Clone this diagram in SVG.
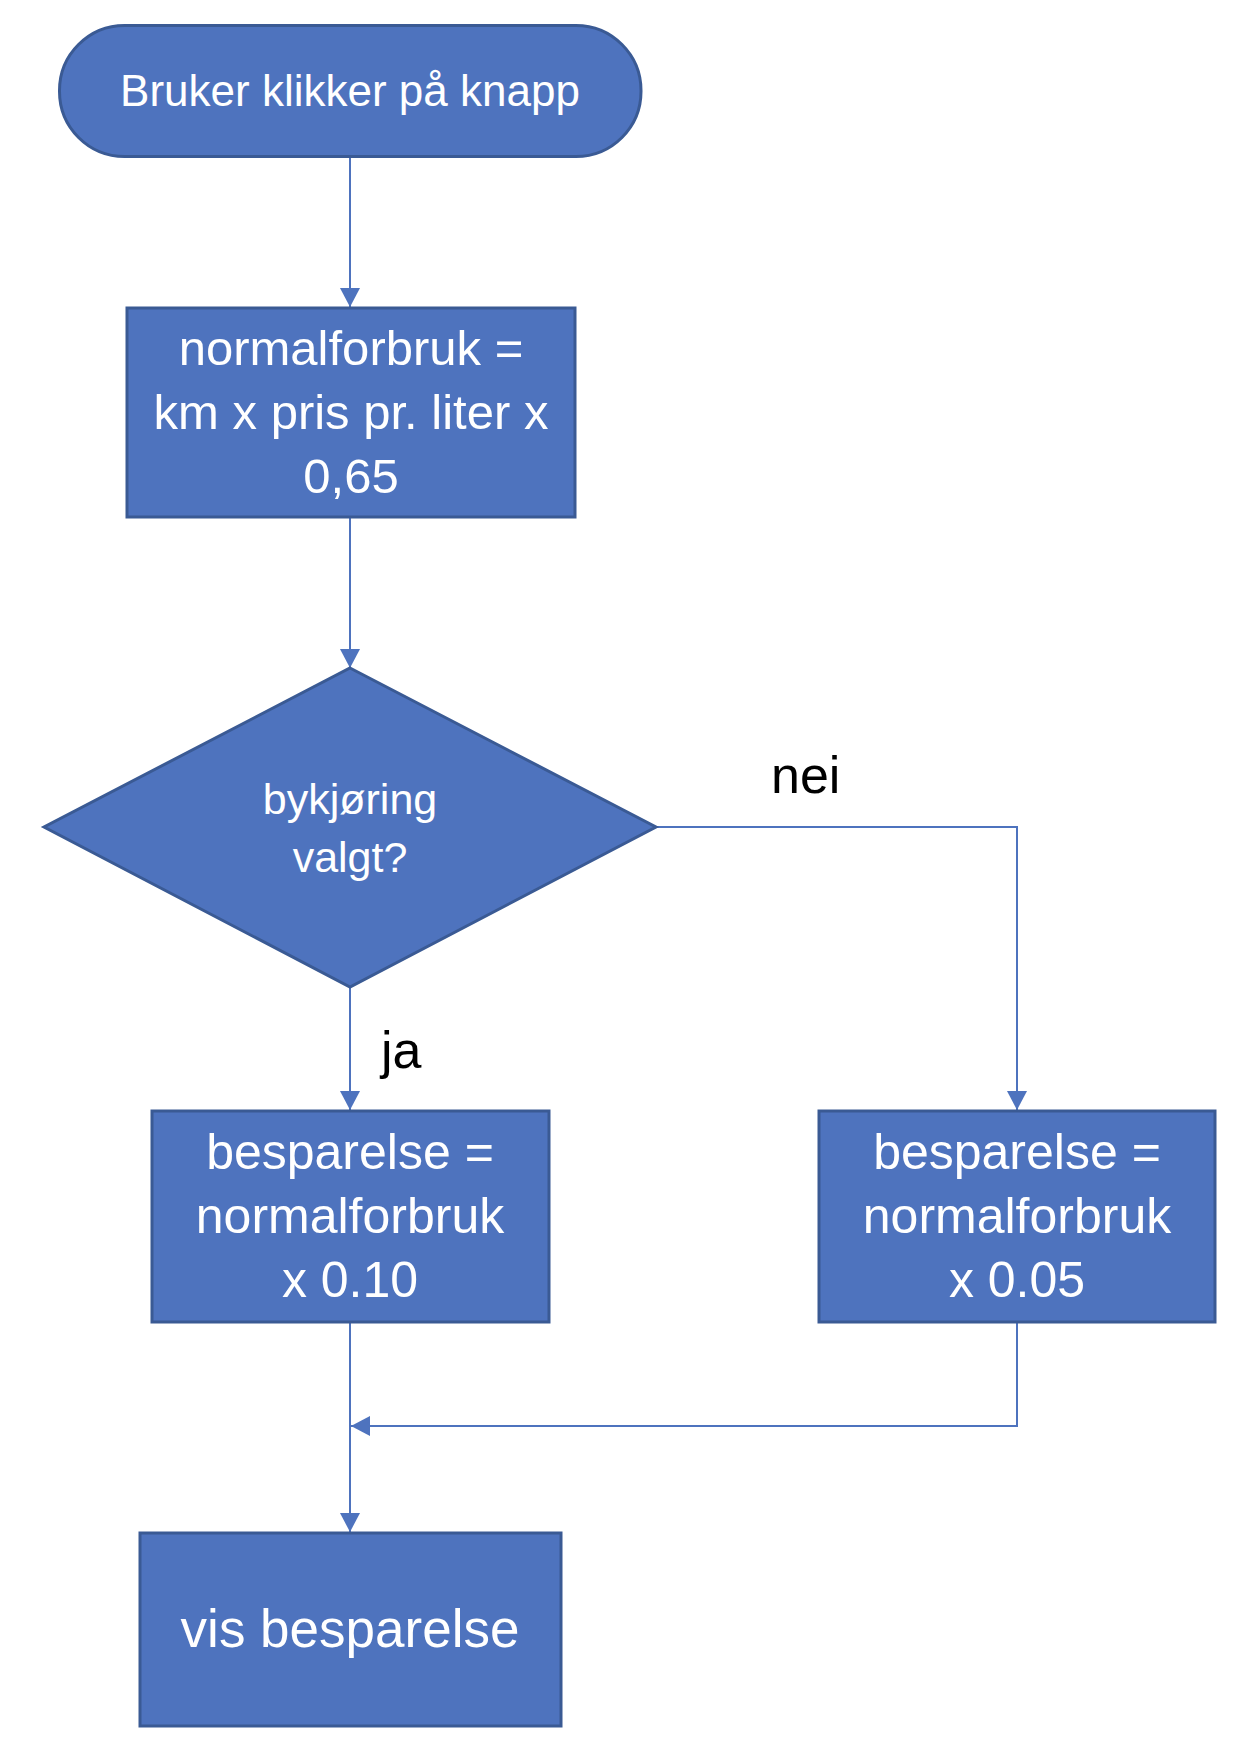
<svg xmlns="http://www.w3.org/2000/svg" width="1260" height="1754" viewBox="0 0 1260 1754">
  <style>
    .shape { fill: #4E73BE; stroke: #3A5A94; stroke-width: 3; }
    .t { fill: #FFFFFF; font-family: "Liberation Sans", Arial, sans-serif; text-anchor: middle; }
    .lbl { fill: #000000; font-family: "Liberation Sans", Arial, sans-serif; font-size: 52px; }
    .conn { fill: none; stroke: #4E73BE; stroke-width: 2; }
  </style>
  <defs>
    <marker id="arrow" viewBox="0 0 19 20" refX="19" refY="10" markerWidth="19" markerHeight="20" markerUnits="userSpaceOnUse" orient="auto">
      <path d="M0,0 L19,10 L0,20 z" fill="#4E73BE"/>
    </marker>
  </defs>
  <rect width="1260" height="1754" fill="#FFFFFF"/>

  <g id="connectors">
    <path class="conn" d="M350,157 L350,307" marker-end="url(#arrow)"/>
    <path class="conn" d="M350,517 L350,668" marker-end="url(#arrow)"/>
    <path class="conn" d="M350,987 L350,1110" marker-end="url(#arrow)"/>
    <path class="conn" d="M656,827 L1017,827 L1017,1110" marker-end="url(#arrow)"/>
    <path class="conn" d="M350,1322 L350,1532" marker-end="url(#arrow)"/>
    <path class="conn" d="M1017,1322 L1017,1426 L351,1426" marker-end="url(#arrow)"/>
    <text class="lbl" x="771" y="793">nei</text>
    <text class="lbl" x="381" y="1068">ja</text>
  </g>

  <g id="start">
    <rect class="shape" x="59.5" y="25.5" width="581.5" height="131" rx="65" ry="65"/>
    <text class="t" x="350" y="106" font-size="44">Bruker klikker på knapp</text>
  </g>

  <g id="normalforbruk">
    <rect class="shape" x="127" y="308" width="448" height="209"/>
    <text class="t" x="351" y="365" font-size="49">normalforbruk =</text>
    <text class="t" x="351" y="429" font-size="49">km x pris pr. liter x</text>
    <text class="t" x="351" y="493" font-size="49">0,65</text>
  </g>

  <g id="decision">
    <polygon class="shape" points="350,668 656,827 350,987 44,827"/>
    <text class="t" x="350" y="814" font-size="43">bykjøring</text>
    <text class="t" x="350" y="872" font-size="43">valgt?</text>
  </g>

  <g id="besparelse-ja">
    <rect class="shape" x="152" y="1111" width="397" height="211"/>
    <text class="t" x="350" y="1169" font-size="50">besparelse =</text>
    <text class="t" x="350" y="1233" font-size="50">normalforbruk</text>
    <text class="t" x="350" y="1297" font-size="50">x 0.10</text>
  </g>

  <g id="besparelse-nei">
    <rect class="shape" x="819" y="1111" width="396" height="211"/>
    <text class="t" x="1017" y="1169" font-size="50">besparelse =</text>
    <text class="t" x="1017" y="1233" font-size="50">normalforbruk</text>
    <text class="t" x="1017" y="1297" font-size="50">x 0.05</text>
  </g>

  <g id="vis-besparelse">
    <rect class="shape" x="140" y="1533" width="421" height="193"/>
    <text class="t" x="350" y="1647" font-size="53">vis besparelse</text>
  </g>
</svg>
